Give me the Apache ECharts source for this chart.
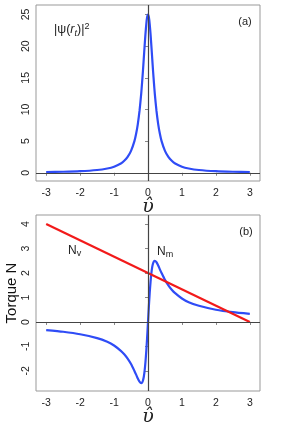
<!DOCTYPE html>
<html><head><meta charset="utf-8">
<script src="https://cdn.jsdelivr.net/npm/echarts@6/dist/echarts.min.js"></script>
<style>html,body{margin:0;padding:0;background:#fff}#c{width:281px;height:429px}</style>
</head><body><div id="c"></div>
<script>
// x-values (v-hat) at which the curves were read
const xs = [-3,-2.5,-2,-1.5,-1.2,-1,-0.8,-0.7,-0.6,-0.5,-0.4,-0.35,-0.3,-0.25,-0.2,-0.175,-0.15,-0.125,-0.1,-0.075,-0.05,-0.025,0,
            0.025,0.05,0.075,0.1,0.125,0.15,0.175,0.2,0.25,0.3,0.35,0.4,0.5,0.6,0.7,0.8,1,1.2,1.5,2,2.5,3];
// panel (a): |psi(r_t)|^2
const psi2 = [0.11,0.16,0.25,0.44,0.68,0.96,1.47,1.89,2.5,3.45,5,6.15,7.69,9.76,12.5,14.2,16,18,20,21.9,23.5,24.6,25,
              24.6,23.5,21.9,20,18,16,14.2,12.5,9.76,7.69,6.15,5,3.45,2.5,1.89,1.47,0.96,0.68,0.44,0.25,0.16,0.11];
// panel (b): N_m
const nm = [-0.33,-0.4,-0.5,-0.66,-0.81,-0.96,-1.18,-1.32,-1.5,-1.72,-2,-2.15,-2.31,-2.44,-2.5,-2.48,-2.4,-2.25,-2,-1.64,-1.18,-0.62,0,
            0.62,1.18,1.64,2,2.25,2.4,2.48,2.5,2.44,2.31,2.15,2,1.72,1.5,1.32,1.18,0.96,0.81,0.66,0.5,0.4,0.33];
// panel (b): N_v (straight line)
const nvX = [-3, 3];
const nvY = [4, 0];
const xTicks = [-3,-2,-1,0,1,2,3];
const yTicksA = [0,5,10,15,20,25];
const yTicksB = [-2,-1,0,1,2,3,4];

const pairs = (a,b)=>a.map((v,i)=>[v,b[i]]);
const chart = echarts.init(document.getElementById('c'), null, {renderer:'canvas'});
const FONT = 'Liberation Sans';
const BLUE = '#2f4cf6', RED = '#f21a1a';
function xAx(gi){return {type:'value',gridIndex:gi,min:-3.3,max:3.3,
  axisLine:{show:false},splitLine:{show:false},
  axisTick:{show:true,length:3,lineStyle:{color:'#888'},customValues:xTicks},
  axisLabel:{fontFamily:FONT,fontSize:10.5,color:'#222',margin:7,customValues:xTicks}};}
function yAx(gi,mn,mx,t){return {type:'value',gridIndex:gi,min:mn,max:mx,
  axisLine:{show:false},splitLine:{show:false},
  axisTick:{show:true,length:3,lineStyle:{color:'#888'},customValues:t},
  axisLabel:{fontFamily:FONT,fontSize:10.5,color:'#222',margin:4,rotate:90,customValues:t}};}
const zeroLines = {silent:true,symbol:'none',label:{show:false},
  lineStyle:{color:'#444',width:1.2,type:'solid'},data:[{yAxis:0},{xAxis:0}]};
chart.setOption({
  animation:false,
  grid:[
    {left:36,right:21,top:5,height:176,show:true,borderColor:'#999',borderWidth:1,backgroundColor:'transparent'},
    {left:36,right:21,top:215,height:176,show:true,borderColor:'#999',borderWidth:1,backgroundColor:'transparent'}
  ],
  xAxis:[xAx(0),xAx(1)],
  yAxis:[yAx(0,-1.3,26.5,yTicksA),yAx(1,-2.82,4.37,yTicksB)],
  series:[
    {type:'line',xAxisIndex:0,yAxisIndex:0,data:pairs(xs,psi2),showSymbol:false,smooth:0.2,
     lineStyle:{color:BLUE,width:2.2},markLine:zeroLines,z:3},
    {type:'line',xAxisIndex:1,yAxisIndex:1,data:pairs(xs,nm),showSymbol:false,smooth:0.2,
     lineStyle:{color:BLUE,width:2.2},markLine:zeroLines,z:3},
    {type:'line',xAxisIndex:1,yAxisIndex:1,data:pairs(nvX,nvY),showSymbol:false,
     lineStyle:{color:RED,width:2.2},z:4}
  ],
  graphic:[
    {type:'text',x:148,y:207,style:{text:'\u03C5\u0302',font:'italic 19px "DejaVu Serif"',fill:'#222',textAlign:'center',textVerticalAlign:'middle'}},
    {type:'text',x:148,y:417,style:{text:'\u03C5\u0302',font:'italic 19px "DejaVu Serif"',fill:'#222',textAlign:'center',textVerticalAlign:'middle'}},
    {type:'text',x:12,y:293,rotation:Math.PI/2,style:{text:'Torque N',font:'15px "Liberation Sans"',fill:'#111',textAlign:'center',textVerticalAlign:'middle'}},
    {type:'text',x:245,y:22,style:{text:'(a)',font:'11px "Liberation Sans"',fill:'#222',textAlign:'center',textVerticalAlign:'middle'}},
    {type:'text',x:246,y:232,style:{text:'(b)',font:'11px "Liberation Sans"',fill:'#222',textAlign:'center',textVerticalAlign:'middle'}},
    {type:'text',x:54,y:22,style:{text:'{a|\u007C\u03C8(}{i|r}{s|t}{a|)\u007C}{p|2}',fill:'#222',
      rich:{a:{fontFamily:FONT,fontSize:12.5,lineHeight:16,verticalAlign:'middle'},
            i:{fontFamily:FONT,fontStyle:'italic',fontSize:12.5,lineHeight:16,verticalAlign:'middle'},
            s:{fontFamily:FONT,fontStyle:'italic',fontSize:9,lineHeight:9,verticalAlign:'bottom'},
            p:{fontFamily:FONT,fontSize:9,lineHeight:9,verticalAlign:'top'}}}},
    {type:'text',x:68,y:245,style:{text:'{n|N}{s|v}',fill:'#222',
      rich:{n:{fontFamily:FONT,fontSize:12,lineHeight:13,verticalAlign:'top'},
            s:{fontFamily:FONT,fontSize:9,lineHeight:9,verticalAlign:'bottom'}}}},
    {type:'text',x:157,y:246,style:{text:'{n|N}{s|m}',fill:'#222',
      rich:{n:{fontFamily:FONT,fontSize:12,lineHeight:13,verticalAlign:'top'},
            s:{fontFamily:FONT,fontSize:9,lineHeight:9,verticalAlign:'bottom'}}}}
  ]
});
</script></body></html>
